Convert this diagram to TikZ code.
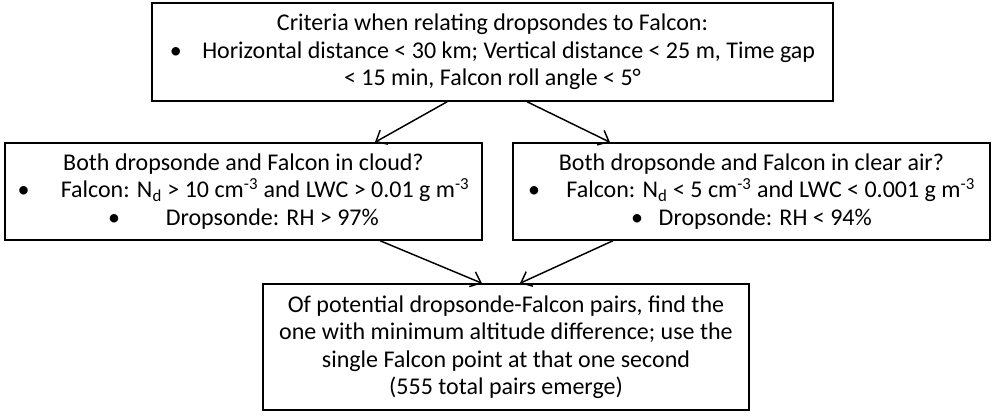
\documentclass[tikz,border=0pt]{standalone}
\usepackage{fontspec}
\setmainfont{Carlito}
\usetikzlibrary{arrows.meta}
\newcommand{\blt}[1][1em]{\textbullet\hspace{#1}}

\begin{document}
\begin{tikzpicture}[x=0.75pt, y=-0.75pt,
  box/.style={draw, line width=1.1pt, align=center, inner sep=0pt, font=\fontsize{18}{20.6}\selectfont},
  flow/.style={-{Straight Barb[length=7pt, width=12pt]}, line width=1.1pt}]
	\useasboundingbox (0,0) rectangle (997,416);
	% criteria
	\node[box, minimum width=510.75pt, minimum height=73.5pt] (crit) at (492.5,52)
	  {Criteria when relating dropsondes to Falcon:\\
	   \blt[0.85em]Horizontal distance < 30 km; Vertical distance < 25 m, Time gap\\
	   < 15 min, Falcon roll angle < 5°};
	% cloud / clear air
	\node[box, minimum width=357.75pt, minimum height=72.75pt] (cloud) at (243.5,191.5)
	  {Both dropsonde and Falcon in cloud?\\
	   \blt[1.3em]Falcon: N\textsubscript{d} > 10 cm\textsuperscript{-3} and LWC > 0.01 g m\textsuperscript{-3}\\
	   \blt[1.9em]Dropsonde: RH > 97\%};
	\node[box, minimum width=357.75pt, minimum height=72.75pt] (clear) at (751.5,191.5)
	  {Both dropsonde and Falcon in clear air?\\
	   \blt[1.1em]Falcon: N\textsubscript{d} < 5 cm\textsuperscript{-3} and LWC < 0.001 g m\textsuperscript{-3}\\
	   \blt[0.65em]Dropsonde: RH < 94\%};
	% pairs
	\node[box, minimum width=364.5pt, minimum height=94.5pt] (pair) at (506,347)
	  {Of potential dropsonde-Falcon pairs, find the\\
	   one with minimum altitude difference; use the\\
	   single Falcon point at that one second\\
	   (555 total pairs emerge)};
	\draw[flow] ([xshift=-34pt]crit.south) -- ([xshift=98.6pt]cloud.north);
	\draw[flow] ([xshift=25.9pt]crit.south) -- ([xshift=-106.1pt]clear.north);
	\draw[flow] ([xshift=102.4pt]cloud.south) -- ([xshift=-18pt]pair.north);
	\draw[flow] ([xshift=-103.9pt]clear.south) -- ([xshift=10.5pt]pair.north);
\end{tikzpicture}
\end{document}
